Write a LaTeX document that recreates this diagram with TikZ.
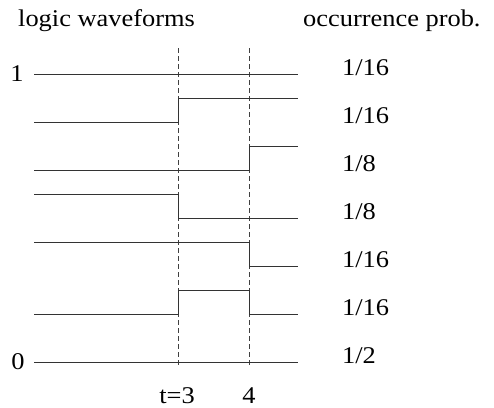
\documentclass[tikz,border=0pt]{standalone}
\usepackage{fontspec}
\setmainfont{Liberation Serif}[FakeStretch=1.1]
\begin{document}
\begin{tikzpicture}[x=1pt,y=-1pt,
  wave/.style={line width=0.9pt, draw=black!80},
  marker/.style={dash pattern=on 5pt off 3pt, line width=0.7pt, draw=black!75},
  lbl/.style={inner sep=0pt, anchor=base west, font=\fontsize{24}{26}\selectfont},
  lblc/.style={inner sep=0pt, anchor=base, font=\fontsize{24}{26}\selectfont}]
\useasboundingbox (0,0) rectangle (494,407);
% dashed time markers
\coordinate (t3top) at (178,48);
\coordinate (t3bot) at (178,367);
\coordinate (t4top) at (249,48);
\coordinate (t4bot) at (249,367);
\draw[marker] (t3top) -- (t3bot);
\draw[marker] (t4top) -- (t4bot);
% waveforms
\draw[wave] (34,74) -- (298,74);
\draw[wave] (34,122) -- (178,122) -- (178,98) -- (298,98);
\draw[wave] (34,170) -- (249,170) -- (249,146) -- (298,146);
\draw[wave] (34,194) -- (178,194) -- (178,218) -- (298,218);
\draw[wave] (34,242) -- (249,242) -- (249,266) -- (298,266);
\draw[wave] (34,314) -- (178,314) -- (178,290) -- (249,290) -- (249,314) -- (298,314);
\draw[wave] (34,362) -- (298,362);
% titles
\node[lbl] (title1) at (18,26) {logic waveforms};
\node[lbl] (title2) at (303,26) {occurrence prob.};
% levels
\node[lblc] (one) at (17,81) {1};
\node[lblc] (zero) at (18,369) {0};
% probabilities
\node[lbl] (p1) at (342,75) {1/16};
\node[lbl] (p2) at (342,123) {1/16};
\node[lbl] (p3) at (342,171) {1/8};
\node[lbl] (p4) at (342,219) {1/8};
\node[lbl] (p5) at (342,267) {1/16};
\node[lbl] (p6) at (342,315) {1/16};
\node[lbl] (p7) at (342,363) {1/2};
% time labels
\node[lblc] (tthree) at (177,403) {t=3};
\node[lblc] (tfour) at (249,403) {4};
\end{tikzpicture}
\end{document}
